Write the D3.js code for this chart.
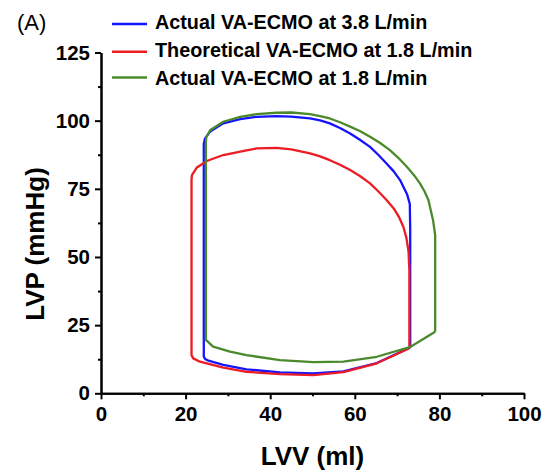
<!DOCTYPE html>
<html>
<head>
<meta charset="utf-8">
<script src="https://cdn.jsdelivr.net/npm/d3@7"></script>
<style>
  body { margin: 0; background: #fff; }
  svg { display: block; font-family: 'Liberation Sans', Arial, sans-serif; }
</style>
</head>
<body>
<svg id="chart"></svg>
<script>
const width = 547
const height = 473

// series names and colours (legend order)
const seriesNames = [
  'Actual VA-ECMO at 3.8 L/min',
  'Theoretical VA-ECMO at 1.8 L/min',
  'Actual VA-ECMO at 1.8 L/min',
]
const seriesColors = ['#1414ff', '#ec1c24', '#4a8a2c']

// PV loops: [LVV (ml), LVP (mmHg)]
const blueLoop = [
  [73.1, 16.8], [73.1, 40], [73.1, 60], [73.0, 69.5], [72.4, 72.8],
  [70.7, 78.2], [69.2, 81.4], [67.5, 84.3], [65.6, 87.4], [63.6, 90.4],
  [61.2, 93], [58.9, 95.3], [56.5, 97.3], [54.1, 99], [51.8, 100.1],
  [49.4, 100.8], [45, 101.5], [41.5, 101.7], [36.8, 101.4], [32.9, 100.6],
  [28.9, 99], [25.8, 96], [24.6, 93.5], [24.3, 91.5], [24.3, 50],
  [24.3, 13.5], [24.6, 12.6], [25.2, 12.1], [28.9, 10.4], [34.4, 8.8],
  [42.3, 7.7], [50.2, 7.3], [57.3, 8.0], [65.2, 11.1], [73.1, 16.8],
]
const redLoop = [
  [72.9, 16.5], [72.9, 45], [72.7, 52], [72.2, 57], [71.5, 61],
  [70.5, 64.5], [69.2, 67.8], [67.5, 70.9], [65.6, 74], [63.6, 77],
  [61.3, 79.6], [58.9, 81.9], [56.5, 83.8], [54.1, 85.5], [51.8, 86.9],
  [49.4, 88], [45, 89.5], [41.5, 90], [36.8, 89.8], [34.4, 89.1],
  [28.9, 87.4], [25, 85.2], [22.6, 82.7], [21.5, 80], [21.4, 78.5],
  [21.4, 14], [21.8, 12.8], [23.4, 11.6], [28.9, 9.4], [34.4, 7.9],
  [42.3, 7.0], [50.2, 6.7], [57.3, 7.8], [65.2, 11], [72.9, 16.5],
]
const greenLoop = [
  [79, 22.6], [79, 58], [78.5, 63.5], [77.4, 70.9], [76.5, 74],
  [75.4, 77], [74, 80], [72.3, 83.1], [70.4, 86.2], [68.3, 89.2],
  [66, 91.8], [63.6, 94.1], [61.3, 96.1], [58.9, 97.8], [56.5, 99.4],
  [54.1, 100.8], [51.8, 101.7], [49.4, 102.4], [45, 103], [41.5, 102.9],
  [36.8, 102.4], [32.9, 101.4], [28.9, 99.6], [25.8, 96.5], [24.9, 94],
  [24.8, 92], [24.8, 19.6], [26.5, 17.1], [30.5, 15.3], [34.4, 14],
  [42.3, 12.2], [50.2, 11.4], [57.3, 11.6], [65.2, 13.4], [73, 16.9],
  [79, 22.6],
]
const loops = [blueLoop, redLoop, greenLoop]

// ticks
const xTicks = [0, 20, 40, 60, 80, 100]
const xMinorTicks = [10, 30, 50, 70, 90]
const yTicks = [0, 25, 50, 75, 100, 125]
const yMinorTicks = [12.5, 37.5, 62.5, 87.5, 112.5]

const svg = d3
  .select('#chart')
  .attr('width', width)
  .attr('height', height)
  .attr('viewBox', [0, 0, width, height])

const x = d3.scaleLinear().domain([0, 100]).range([101, 524])
const y = d3.scaleLinear().domain([0, 125]).range([393.3, 52.5])

// --------------------------------------------------------------
// Axes
const styleAxis = function (g) {
  g.select('.domain').attr('stroke', '#000').attr('stroke-width', 2)
  g.selectAll('.tick line').attr('stroke', '#000').attr('stroke-width', 2)
  g.selectAll('.tick text')
    .attr('fill', '#000')
    .attr('font-size', 20.5)
    .attr('font-weight', 'bold')
    .attr('font-family', "'Liberation Sans', Arial, sans-serif")
}

svg
  .append('g')
  .attr('transform', `translate(0,${y(0)})`)
  .call(d3.axisBottom(x).tickValues(xMinorTicks).tickSize(3).tickSizeOuter(0).tickFormat(''))
  .call(styleAxis)

svg
  .append('g')
  .attr('transform', `translate(0,${y(0)})`)
  .call(d3.axisBottom(x).tickValues(xTicks).tickSize(6).tickPadding(7).tickSizeOuter(0))
  .call(styleAxis)

svg
  .append('g')
  .attr('transform', `translate(${x(0)},0)`)
  .call(d3.axisLeft(y).tickValues(yMinorTicks).tickSize(3).tickSizeOuter(0).tickFormat(''))
  .call(styleAxis)

svg
  .append('g')
  .attr('transform', `translate(${x(0)},0)`)
  .call(d3.axisLeft(y).tickValues(yTicks).tickSize(6).tickPadding(5).tickSizeOuter(0))
  .call(styleAxis)

// axis titles
svg
  .append('text')
  .attr('x', (x(0) + x(100)) / 2)
  .attr('y', 465)
  .attr('text-anchor', 'middle')
  .attr('font-size', 26)
  .attr('font-weight', 'bold')
  .text('LVV (ml)')

svg
  .append('text')
  .attr('transform', 'translate(44,244) rotate(-90)')
  .attr('text-anchor', 'middle')
  .attr('font-size', 26)
  .attr('font-weight', 'bold')
  .text('LVP (mmHg)')

// panel label
svg
  .append('text')
  .attr('x', 17)
  .attr('y', 30)
  .attr('font-size', 22)
  .text('(A)')

// --------------------------------------------------------------
// PV loops
const line = d3
  .line()
  .x((d) => x(d[0]))
  .y((d) => y(d[1]))

svg
  .append('g')
  .attr('class', 'loops')
  .selectAll('path')
  .data(loops)
  .join('path')
  .attr('d', line)
  .attr('fill', 'none')
  .attr('stroke', (d, i) => seriesColors[i])
  .attr('stroke-width', 2.3)
  .attr('stroke-linejoin', 'round')

// --------------------------------------------------------------
// Legend
const legendLineY = [24, 51.7, 77.5]
const legendTextY = [29, 57, 85]
const legend = svg
  .append('g')
  .attr('class', 'legend')
  .selectAll('g')
  .data(seriesNames)
  .join('g')

legend
  .append('line')
  .attr('x1', 112)
  .attr('x2', 147)
  .attr('y1', (d, i) => legendLineY[i])
  .attr('y2', (d, i) => legendLineY[i])
  .attr('stroke', (d, i) => seriesColors[i])
  .attr('stroke-width', 2.5)

legend
  .append('text')
  .attr('x', 155)
  .attr('y', (d, i) => legendTextY[i])
  .attr('font-size', 19.8)
  .attr('font-weight', 'bold')
  .text((d) => d)
</script>
</body>
</html>
